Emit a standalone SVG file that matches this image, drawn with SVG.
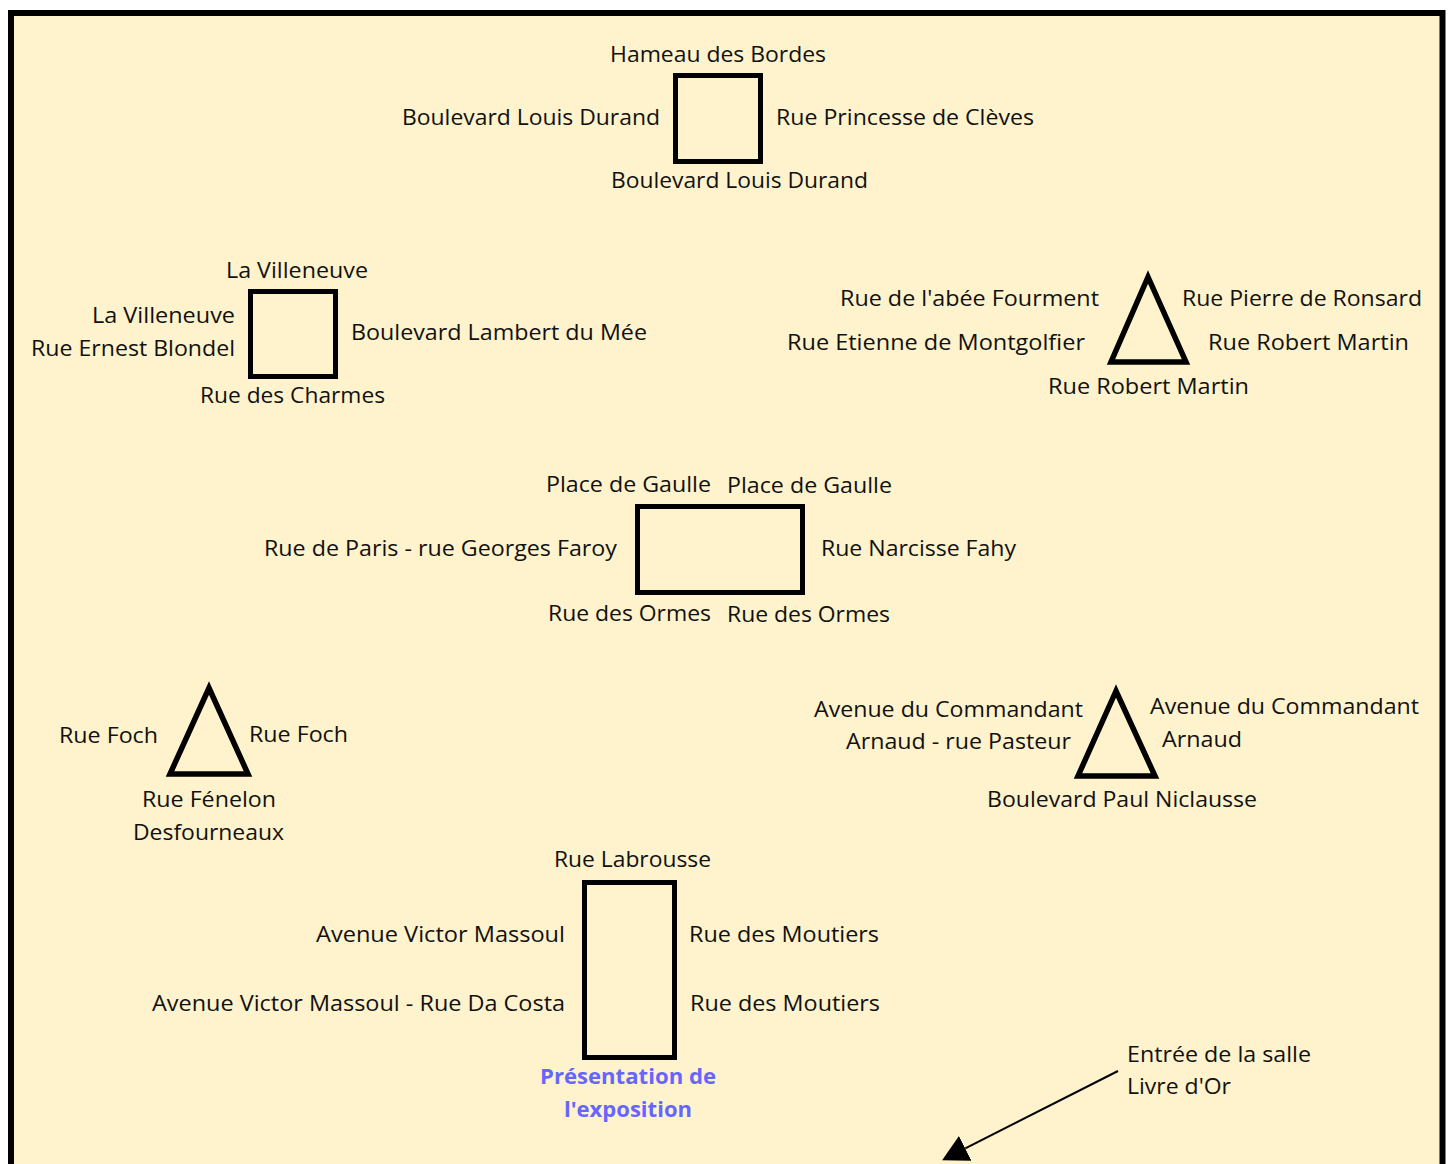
<svg xmlns="http://www.w3.org/2000/svg" width="1451" height="1164" viewBox="0 0 1451 1164">
<style>
text{font-family:"Open Sans","Liberation Sans",sans-serif;font-size:21.5px;fill:#111}
.b{font-weight:bold;fill:#6666FF}
.n{fill:none;stroke:#000;stroke-width:5}
.t{fill:none;stroke:#000;stroke-width:5.5}
</style>
<defs>
<marker id="ah" markerUnits="userSpaceOnUse" markerWidth="27" markerHeight="29" viewBox="0 0 27 29" refX="0" refY="14" orient="auto">
<path d="M0,0 L26,14 L0,28 Z" fill="#000"/>
</marker>
</defs>
<rect x="0" y="0" width="1451" height="1164" fill="#fff"/>
<rect x="11" y="13" width="1431.5" height="1200" fill="#FEF3CC" stroke="#000" stroke-width="6"/>

<g id="node-square1">
<rect class="n" x="675.5" y="75.5" width="85" height="86"/>
<text x="610" y="62" textLength="216" lengthAdjust="spacingAndGlyphs">Hameau des Bordes</text>
<text x="402" y="125" textLength="258" lengthAdjust="spacingAndGlyphs">Boulevard Louis Durand</text>
<text x="776" y="125" textLength="258" lengthAdjust="spacingAndGlyphs">Rue Princesse de Clèves</text>
<text x="611" y="188" textLength="257" lengthAdjust="spacingAndGlyphs">Boulevard Louis Durand</text>
</g>

<g id="node-square2">
<rect class="n" x="250.5" y="291.5" width="85" height="85"/>
<text x="226" y="278" textLength="142" lengthAdjust="spacingAndGlyphs">La Villeneuve</text>
<text x="92" y="323" textLength="143" lengthAdjust="spacingAndGlyphs">La Villeneuve</text>
<text x="31" y="356" textLength="204" lengthAdjust="spacingAndGlyphs">Rue Ernest Blondel</text>
<text x="351" y="340" textLength="296" lengthAdjust="spacingAndGlyphs">Boulevard Lambert du Mée</text>
<text x="200" y="403" textLength="185" lengthAdjust="spacingAndGlyphs">Rue des Charmes</text>
</g>

<g id="node-triangle1">
<polygon class="t" points="1148,277 1111,362 1186,362"/>
<text x="840" y="306" textLength="259" lengthAdjust="spacingAndGlyphs">Rue de l'abée Fourment</text>
<text x="1182" y="306" textLength="240" lengthAdjust="spacingAndGlyphs">Rue Pierre de Ronsard</text>
<text x="787" y="350" textLength="298" lengthAdjust="spacingAndGlyphs">Rue Etienne de Montgolfier</text>
<text x="1208" y="350" textLength="201" lengthAdjust="spacingAndGlyphs">Rue Robert Martin</text>
<text x="1048" y="394" textLength="201" lengthAdjust="spacingAndGlyphs">Rue Robert Martin</text>
</g>

<g id="node-rect3">
<rect class="n" x="637.5" y="506.5" width="165" height="86"/>
<text x="546" y="492" textLength="165" lengthAdjust="spacingAndGlyphs">Place de Gaulle</text>
<text x="727" y="493" textLength="165" lengthAdjust="spacingAndGlyphs">Place de Gaulle</text>
<text x="264" y="556" textLength="353" lengthAdjust="spacingAndGlyphs">Rue de Paris - rue Georges Faroy</text>
<text x="821" y="556" textLength="195" lengthAdjust="spacingAndGlyphs">Rue Narcisse Fahy</text>
<text x="548" y="621" textLength="163" lengthAdjust="spacingAndGlyphs">Rue des Ormes</text>
<text x="727" y="622" textLength="163" lengthAdjust="spacingAndGlyphs">Rue des Ormes</text>
</g>

<g id="node-triangle2">
<polygon class="t" points="209,688 170,774 248,774"/>
<text x="59" y="743" textLength="99" lengthAdjust="spacingAndGlyphs">Rue Foch</text>
<text x="249" y="742" textLength="99" lengthAdjust="spacingAndGlyphs">Rue Foch</text>
<text x="142" y="807" textLength="134" lengthAdjust="spacingAndGlyphs">Rue Fénelon</text>
<text x="133" y="840" textLength="151" lengthAdjust="spacingAndGlyphs">Desfourneaux</text>
</g>

<g id="node-triangle3">
<polygon class="t" points="1116,691 1078,776 1155,776"/>
<text x="814" y="717" textLength="269" lengthAdjust="spacingAndGlyphs">Avenue du Commandant</text>
<text x="846" y="749" textLength="225" lengthAdjust="spacingAndGlyphs">Arnaud - rue Pasteur</text>
<text x="1150" y="714" textLength="269" lengthAdjust="spacingAndGlyphs">Avenue du Commandant</text>
<text x="1162" y="747" textLength="80" lengthAdjust="spacingAndGlyphs">Arnaud</text>
<text x="987" y="807" textLength="270" lengthAdjust="spacingAndGlyphs">Boulevard Paul Niclausse</text>
</g>

<g id="node-rect4">
<rect class="n" x="584.5" y="882.5" width="90" height="175"/>
<text x="554" y="867" textLength="157" lengthAdjust="spacingAndGlyphs">Rue Labrousse</text>
<text x="316" y="942" textLength="249" lengthAdjust="spacingAndGlyphs">Avenue Victor Massoul</text>
<text x="689" y="942" textLength="190" lengthAdjust="spacingAndGlyphs">Rue des Moutiers</text>
<text x="152" y="1011" textLength="413" lengthAdjust="spacingAndGlyphs">Avenue Victor Massoul - Rue Da Costa</text>
<text x="690" y="1011" textLength="190" lengthAdjust="spacingAndGlyphs">Rue des Moutiers</text>
<text class="b" x="540" y="1084" textLength="176" lengthAdjust="spacingAndGlyphs">Présentation de</text>
<text class="b" x="564" y="1117" textLength="128" lengthAdjust="spacingAndGlyphs">l'exposition</text>
</g>

<g id="node-entree">
<text x="1127" y="1062" textLength="184" lengthAdjust="spacingAndGlyphs">Entrée de la salle</text>
<text x="1127" y="1094" textLength="104" lengthAdjust="spacingAndGlyphs">Livre d'Or</text>
</g>

<g id="connectors">
<line x1="1118" y1="1071" x2="965.3" y2="1148.4" stroke="#000" stroke-width="2" marker-end="url(#ah)"/>
</g>
</svg>
